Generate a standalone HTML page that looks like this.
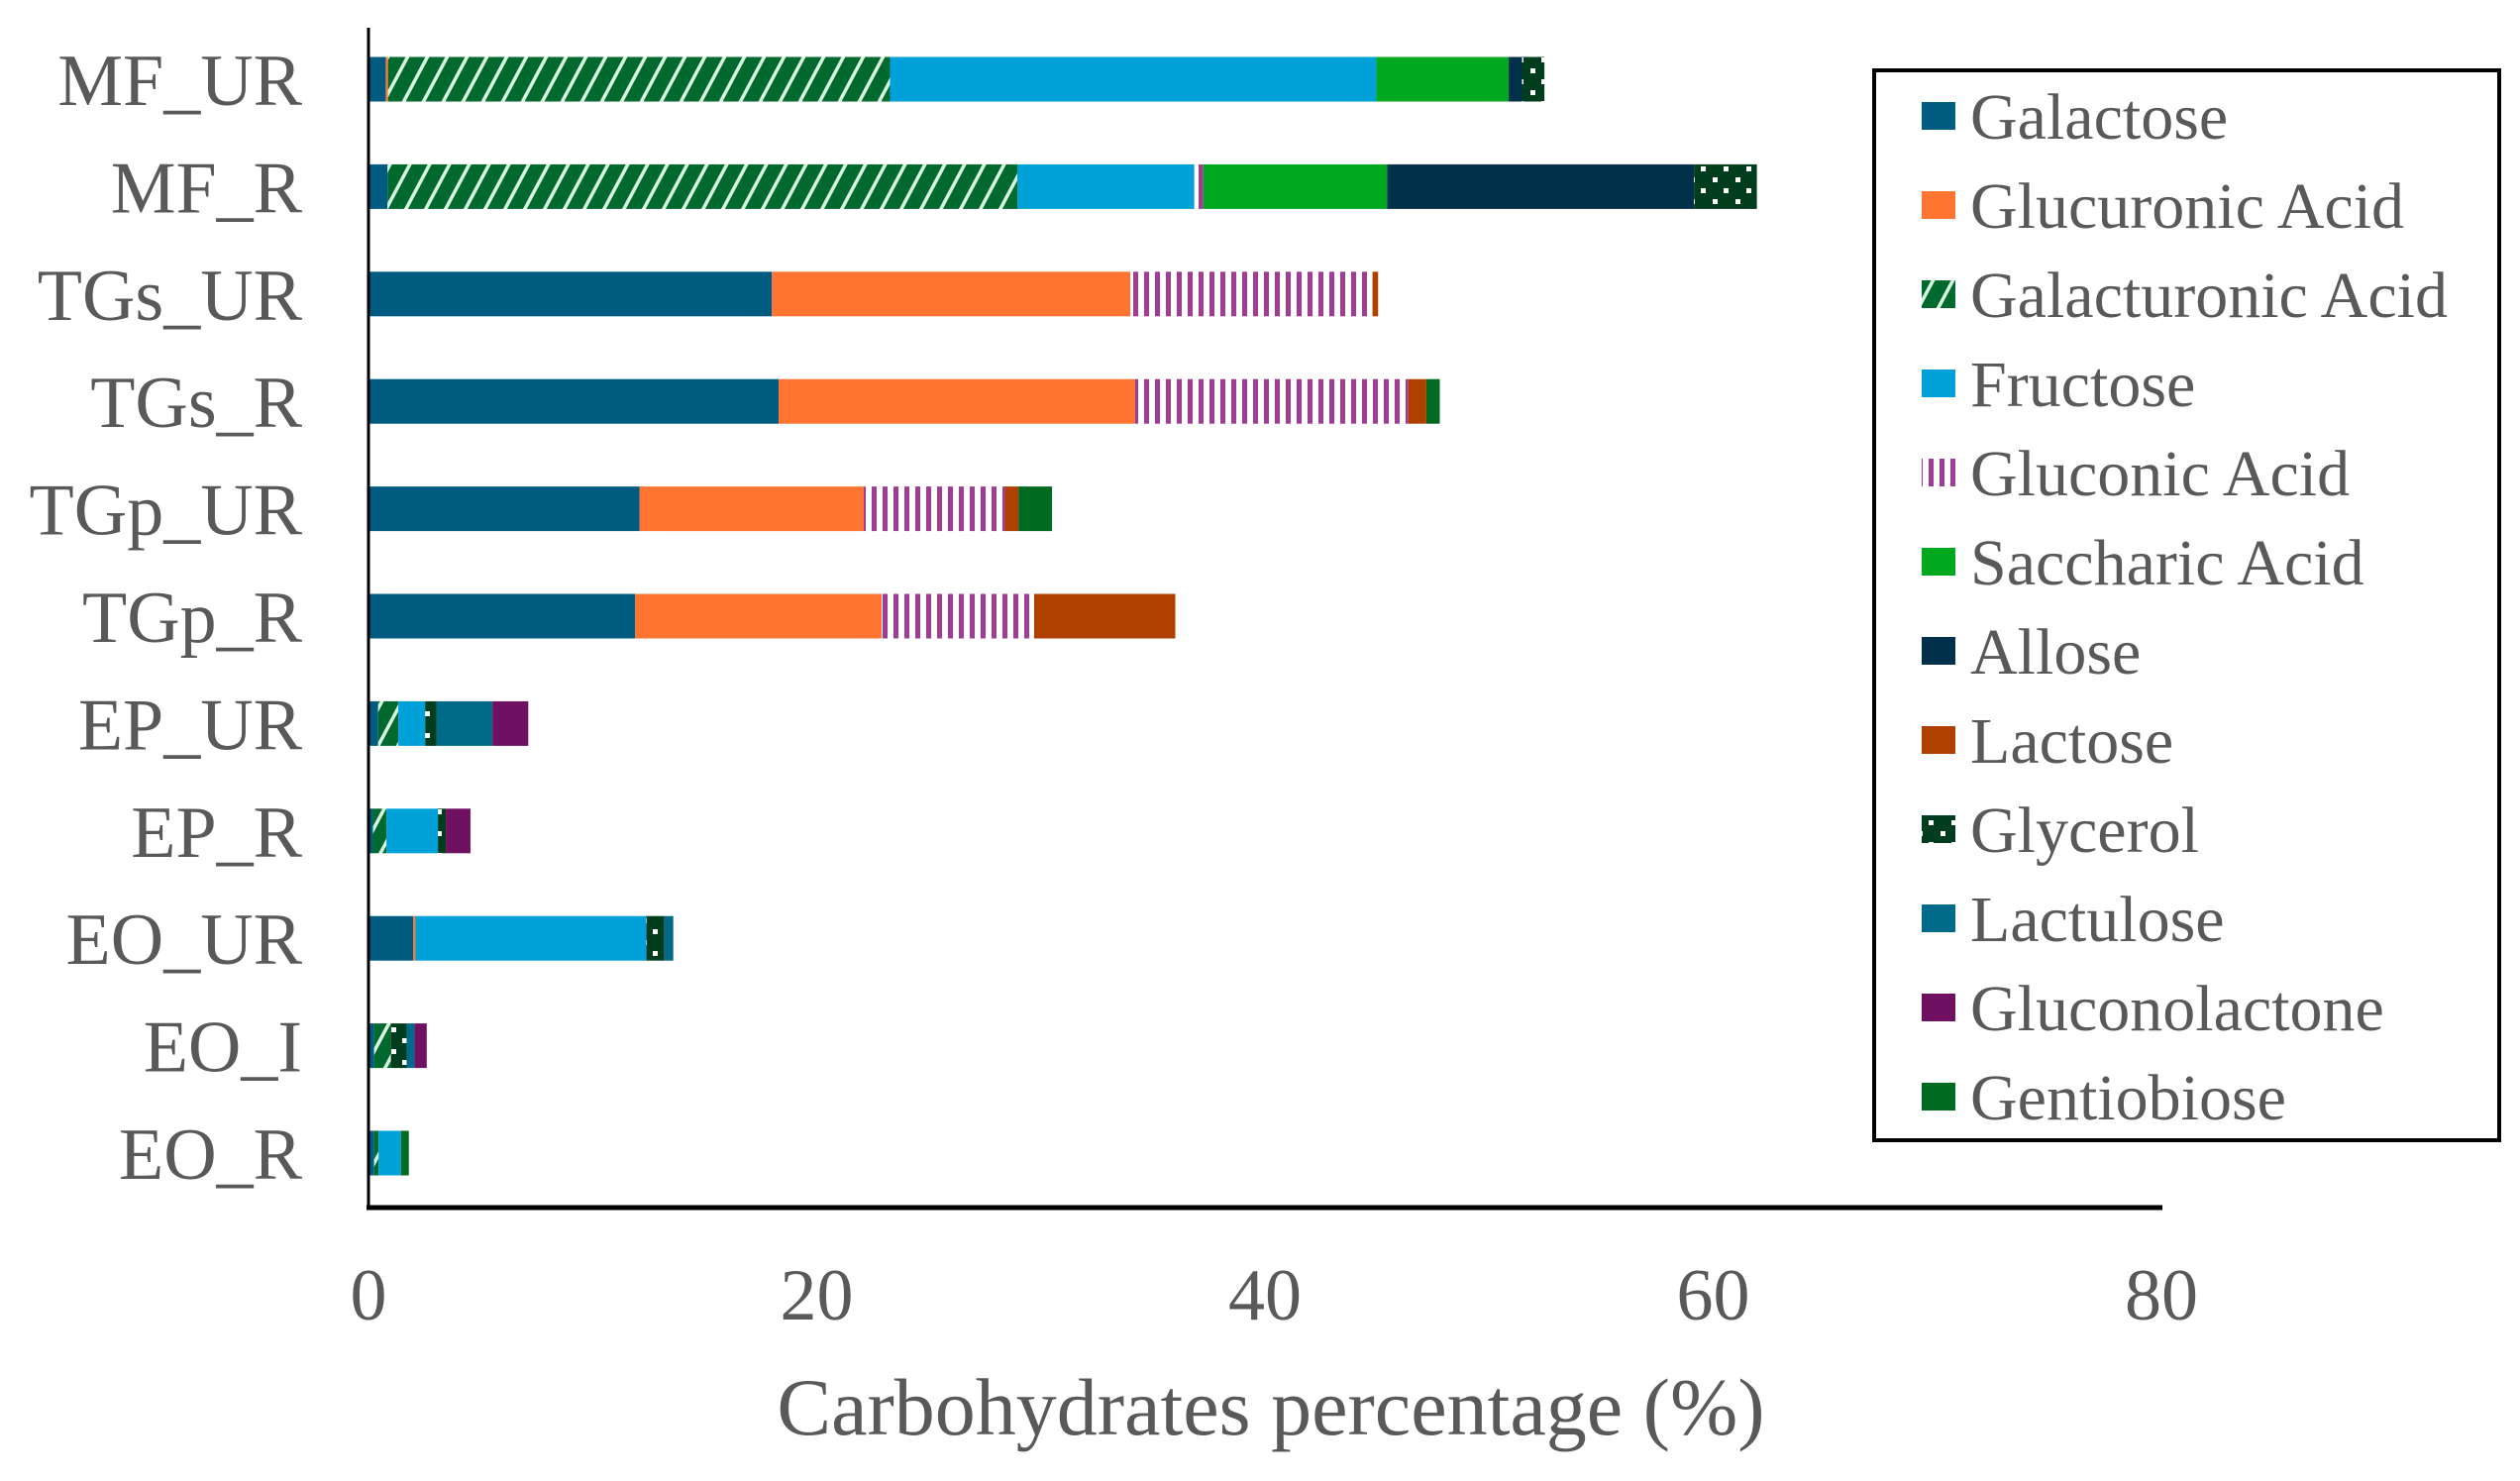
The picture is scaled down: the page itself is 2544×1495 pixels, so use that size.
<!DOCTYPE html>
<html><head><meta charset="utf-8"><style>
html,body{margin:0;padding:0;background:#fff;}
svg{display:block;font-family:"Liberation Serif",serif;}
</style></head><body>
<svg id="chart" width="2544" height="1495" viewBox="0 0 2544 1495" xmlns="http://www.w3.org/2000/svg">
<defs>
<pattern id="p-galact" patternUnits="userSpaceOnUse" width="20" height="20" patternTransform="skewX(-28)">
<rect width="20" height="20" fill="#006a2e"/><rect x="0" width="4" height="20" fill="#d8f5e0"/>
</pattern>
<pattern id="p-glucon" patternUnits="userSpaceOnUse" width="11" height="20">
<rect width="11" height="20" fill="#fff"/><rect x="0" width="5" height="20" fill="#a03c94"/>
</pattern>
<pattern id="p-glyc" patternUnits="userSpaceOnUse" width="23" height="22">
<rect width="23" height="22" fill="#003d1c"/><rect x="4" y="3" width="5" height="5" fill="#fff"/><rect x="15" y="14" width="5" height="5" fill="#fff"/>
</pattern>
</defs>
<g id="bars"></g>
<line x1="372" y1="28" x2="372" y2="1220" stroke="#000" stroke-width="3"/>
<line x1="370" y1="1219" x2="2183" y2="1219" stroke="#000" stroke-width="5"/>
<g id="ylabels"></g>
<g id="xticks"></g>
<text x="1283" y="1448" text-anchor="middle" font-size="82" fill="#595959">Carbohydrates percentage (%)</text>
<rect x="1892" y="71" width="631" height="1080" fill="#fff" stroke="#000" stroke-width="4"/>
<g id="legend"></g>
</svg>
<script>
const categories = ["MF_UR","MF_R","TGs_UR","TGs_R","TGp_UR","TGp_R","EP_UR","EP_R","EO_UR","EO_I","EO_R"];
const seriesNames = ["Galactose","Glucuronic Acid","Galacturonic Acid","Fructose","Gluconic Acid","Saccharic Acid","Allose","Lactose","Glycerol","Lactulose","Gluconolactone","Gentiobiose"];
const galactose      = [0.77,0.85,18.0,18.3,12.1,11.9,0.43,0.2,2.0,0.25,0.25];
const glucuronicAcid = [0.1,0,16.0,15.9,10.0,11.0,0,0,0.1,0,0];
const galacturonicAcid=[22.4,28.1,0,0,0,0,0.9,0.6,0,0.75,0.2];
const fructose       = [21.7,7.9,0,0,0,0,1.2,2.3,10.3,0,1.0];
const gluconicAcid   = [0,0.4,10.8,12.2,6.3,6.8,0,0,0,0,0];
const saccharicAcid  = [5.9,8.2,0,0,0,0,0,0,0,0,0];
const allose         = [0.6,13.7,0,0,0,0,0,0,0,0,0];
const lactose        = [0,0,0.25,0.8,0.6,6.3,0,0,0,0,0];
const glycerol       = [1.0,2.8,0,0,0,0,0.5,0.35,0.8,0.7,0];
const lactulose      = [0,0,0,0,0,0,2.5,0,0.4,0.35,0];
const gluconolactone = [0,0,0,0,0,0,1.6,1.1,0,0.55,0];
const gentiobiose    = [0,0,0,0.6,1.5,0,0,0,0,0,0.35];
const xTicks = [0,20,40,60,80];

const series = [galactose,glucuronicAcid,galacturonicAcid,fructose,gluconicAcid,saccharicAcid,allose,lactose,glycerol,lactulose,gluconolactone,gentiobiose];
const fills = ["#005b80","#ff7430","url(#p-galact)","#00a0d8","url(#p-glucon)","#00a820","#00304a","#b04000","url(#p-glyc)","#006a8a","#701060","#006a20"];
const NS="http://www.w3.org/2000/svg";
const x0=372, x1=2182, xMax=80;
function xs(v){return x0+(v/xMax)*(x1-x0);}
const yTop=80, yStep=108.4, barH=45;
function yc(i){return yTop+i*yStep;}
function mk(tag,attrs,parent){const e=document.createElementNS(NS,tag);for(const k in attrs)e.setAttribute(k,attrs[k]);parent.appendChild(e);return e;}
const gb=document.getElementById('bars');
categories.forEach((c,i)=>{
  let acc=0;
  series.forEach((s,j)=>{
    const v=s[i]; if(!v) return;
    const r=mk('rect',{x:xs(acc),y:yc(i)-barH/2,width:xs(acc+v)-xs(acc),height:barH,fill:fills[j]},gb);
    
    
    acc+=v;
  });
});
const gy=document.getElementById('ylabels');
categories.forEach((c,i)=>{
  const t=mk('text',{x:305,y:yc(i)+26,'text-anchor':'end','font-size':74,fill:'#595959'},gy);
  t.textContent=c;
  
  
});
const gx=document.getElementById('xticks');
xTicks.forEach(v=>{
  const t=mk('text',{x:xs(v),y:1332,'text-anchor':'middle','font-size':74,fill:'#595959'},gx);
  t.textContent=v;
  
  
});
const gl=document.getElementById('legend');
seriesNames.forEach((n,j)=>{
  const cy=117+j*90;
  const g=mk('g',{},gl);
  
  
  mk('rect',{x:1940,y:cy-14,width:34,height:28,fill:fills[j]},g);
  const t=mk('text',{x:1989,y:cy+23,'font-size':66,fill:'#595959'},g);
  t.textContent=n;
});
</script>
</body></html>
